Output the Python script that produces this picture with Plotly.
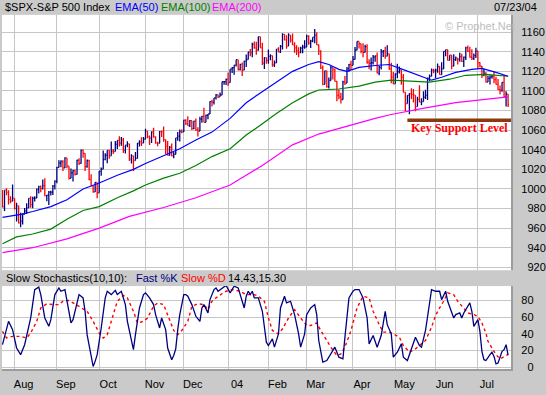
import pandas as pd
import plotly.graph_objects as go

# ---------------- data ----------------
start_date, end_date = "2003-07-24", "2004-07-23"
holidays = ["2003-09-01", "2003-11-27", "2003-12-25", "2004-01-01", "2004-01-19",
            "2004-02-16", "2004-04-09", "2004-05-31", "2004-06-11", "2004-07-05"]

opens = [
    988.6, 981.6, 998.7, 996.5, 989.3, 987.5,
    990.3, 980.2, 982.8, 965.5, 967.1, 974.1, 977.6, 980.6, 990.4, 984.0, 990.5, 990.7, 999.7, 1002.4, 1000.3, 1003.3, 993.1, 993.7, 996.7, 996.8, 1002.8,
    1008.0, 1022.0, 1026.3, 1028.0, 1021.4, 1031.6, 1023.2, 1010.9, 1016.4, 1018.6, 1014.8, 1029.3, 1026.0, 1039.6, 1036.3, 1022.8, 1029.0, 1009.4, 1003.3, 996.9, 1006.6,
    996.0, 1018.2, 1020.2, 1029.9, 1034.4, 1039.3, 1033.8, 1038.7, 1038.1, 1045.4, 1049.5, 1046.8, 1050.1, 1039.3, 1044.7, 1046.0, 1030.4, 1033.8, 1028.9, 1031.1, 1046.8, 1048.1, 1046.9,
    1050.7, 1059.0, 1053.3, 1051.8, 1058.1, 1053.2, 1047.1, 1046.6, 1058.5, 1058.4, 1050.4, 1043.6, 1034.2, 1042.4, 1033.7, 1035.3, 1052.1, 1053.9, 1058.5,
    1058.2, 1070.1, 1066.6, 1064.7, 1069.7, 1061.5, 1069.3, 1060.2, 1059.1, 1071.2, 1074.1, 1068.0, 1075.1, 1076.5, 1089.2, 1088.7, 1092.9, 1096.0, 1094.0, 1095.9, 1109.5, 1109.6,
    1111.9, 1108.5, 1122.2, 1123.7, 1126.3, 1131.9, 1121.9, 1127.2, 1121.2, 1130.5, 1132.1, 1139.8, 1138.8, 1147.6, 1143.9, 1141.6, 1155.4, 1144.1, 1128.5, 1134.1,
    1131.1, 1135.3, 1136.0, 1126.5, 1128.6, 1142.8, 1139.8, 1145.5, 1157.8, 1152.1, 1145.8, 1157.0, 1151.8, 1147.1, 1144.1, 1141.0, 1139.1, 1143.7, 1144.9,
    1144.9, 1156.0, 1149.1, 1151.0, 1154.9, 1156.9, 1147.2, 1140.6, 1123.9, 1106.8, 1120.6, 1104.5, 1110.7, 1123.8, 1122.3, 1109.8, 1095.4, 1094.0, 1091.3, 1109.2, 1108.1, 1122.5, 1127.0,
    1126.2, 1132.2, 1141.8, 1150.6, 1148.2, 1140.5, 1139.3, 1145.2, 1129.4, 1128.2, 1128.8, 1134.6, 1135.8, 1118.2, 1124.1, 1139.9, 1140.6, 1135.5, 1138.1, 1122.4, 1113.9,
    1107.3, 1117.5, 1119.6, 1121.5, 1114.0, 1098.7, 1087.1, 1095.5, 1097.3, 1096.4, 1095.7, 1084.1, 1091.5, 1088.7, 1089.2, 1093.6, 1095.4, 1113.1, 1114.9, 1121.3,
    1120.7, 1121.2, 1125.0, 1116.6, 1122.5, 1140.4, 1142.2, 1131.3, 1136.5, 1125.3, 1132.0, 1133.6, 1132.1, 1135.0, 1130.3, 1134.4, 1144.1, 1140.7, 1134.4, 1133.4, 1136.2,
    1140.8, 1128.9, 1125.4, 1116.2, 1118.3, 1109.1, 1112.8, 1114.4, 1115.1, 1111.5, 1106.7, 1101.4, 1100.9, 1108.7, 1093.9, 1096.8,
]
highs = [
    998.9, 998.7, 1000.7, 998.6, 992.6, 1004.6,
    990.3, 985.8, 982.8, 975.7, 974.9, 980.6, 985.5, 990.4, 992.5, 991.9, 992.4, 1000.4, 1003.3, 1003.5, 1009.5, 1011.0, 993.7, 997.9, 998.1, 1004.1, 1008.9,
    1022.6, 1029.3, 1029.2, 1029.2, 1032.4, 1031.6, 1023.2, 1020.9, 1019.6, 1019.8, 1029.7, 1031.3, 1040.2, 1040.3, 1036.3, 1030.1, 1029.8, 1015.0, 1003.3, 1006.9, 1006.6,
    1018.2, 1021.9, 1039.3, 1036.5, 1039.3, 1040.1, 1048.3, 1040.8, 1048.9, 1049.5, 1053.8, 1052.9, 1051.9, 1044.7, 1048.6, 1046.0, 1035.4, 1033.8, 1037.8, 1046.8, 1049.8, 1052.8, 1053.1,
    1061.4, 1059.0, 1054.5, 1058.9, 1062.4, 1053.7, 1048.2, 1059.1, 1059.6, 1063.7, 1050.4, 1048.8, 1043.9, 1046.5, 1037.6, 1052.1, 1058.1, 1060.6, 1060.6,
    1070.5, 1071.2, 1074.3, 1070.4, 1069.7, 1069.6, 1071.9, 1063.0, 1073.6, 1074.8, 1082.8, 1075.9, 1076.5, 1089.5, 1091.1, 1092.9, 1096.9, 1096.4, 1098.5, 1109.5, 1109.8, 1112.6,
    1118.9, 1122.2, 1124.5, 1126.3, 1131.9, 1131.9, 1127.9, 1129.1, 1130.8, 1137.1, 1139.8, 1142.9, 1149.2, 1150.5, 1150.3, 1155.4, 1155.4, 1149.1, 1134.4, 1134.2,
    1142.4, 1137.4, 1136.0, 1131.2, 1142.8, 1144.5, 1147.0, 1158.9, 1157.8, 1156.9, 1158.9, 1157.0, 1158.6, 1149.8, 1146.7, 1144.5, 1145.2, 1147.3, 1151.7,
    1157.5, 1157.0, 1152.4, 1154.9, 1163.2, 1159.9, 1147.3, 1141.5, 1125.9, 1120.6, 1120.6, 1113.8, 1125.8, 1123.8, 1122.7, 1109.8, 1101.5, 1098.3, 1110.4, 1115.3, 1124.4, 1127.6, 1130.8,
    1135.7, 1144.8, 1150.6, 1150.6, 1148.2, 1148.8, 1147.3, 1147.8, 1132.5, 1134.1, 1136.8, 1136.2, 1139.3, 1125.7, 1142.8, 1141.9, 1145.1, 1146.6, 1138.1, 1128.8, 1119.3,
    1118.2, 1127.7, 1125.1, 1121.5, 1117.3, 1098.7, 1095.7, 1097.6, 1102.8, 1102.1, 1095.7, 1094.1, 1105.9, 1092.6, 1099.6, 1101.3, 1113.8, 1116.7, 1123.0, 1122.7,
    1122.7, 1128.1, 1125.3, 1129.2, 1140.5, 1142.2, 1142.2, 1136.5, 1136.5, 1137.4, 1135.3, 1133.6, 1138.9, 1138.1, 1135.1, 1145.2, 1146.3, 1145.1, 1142.6, 1138.3, 1144.2,
    1140.8, 1129.2, 1125.4, 1122.4, 1119.1, 1115.6, 1116.1, 1116.3, 1119.6, 1114.6, 1112.2, 1105.5, 1108.9, 1116.3, 1099.7, 1096.8,
]
lows = [
    981.1, 977.5, 993.6, 984.1, 985.4, 987.5,
    978.9, 966.8, 964.6, 960.8, 963.8, 974.1, 974.5, 980.6, 980.9, 980.3, 987.1, 990.7, 995.3, 996.6, 999.5, 992.6, 987.5, 983.6, 993.3, 993.8, 999.5,
    1005.7, 1022.0, 1022.2, 1018.2, 1021.4, 1021.1, 1009.7, 1010.9, 1007.7, 1013.6, 1014.8, 1024.5, 1025.8, 1031.9, 1018.3, 1021.5, 1008.9, 1003.3, 996.1, 996.9, 990.4,
    996.0, 1013.4, 1020.2, 1029.2, 1026.3, 1030.7, 1033.8, 1035.7, 1038.1, 1040.8, 1043.2, 1044.0, 1036.6, 1036.1, 1042.6, 1028.4, 1025.9, 1018.3, 1028.9, 1031.1, 1043.4, 1043.8, 1046.9,
    1050.7, 1051.7, 1044.9, 1046.9, 1052.2, 1046.0, 1043.5, 1046.6, 1052.9, 1048.1, 1035.3, 1034.0, 1034.2, 1033.4, 1031.2, 1035.3, 1049.3, 1048.4, 1056.8,
    1058.2, 1065.2, 1064.6, 1063.2, 1060.1, 1060.9, 1059.2, 1053.4, 1059.1, 1067.6, 1068.0, 1068.0, 1071.1, 1076.5, 1084.2, 1086.1, 1091.2, 1092.7, 1094.0, 1095.9, 1106.4, 1106.2,
    1105.1, 1108.5, 1118.4, 1116.5, 1124.9, 1120.9, 1120.9, 1115.2, 1121.2, 1124.5, 1132.1, 1135.4, 1134.4, 1143.0, 1136.9, 1141.0, 1144.1, 1126.5, 1122.4, 1127.7,
    1127.9, 1131.3, 1124.7, 1124.4, 1128.6, 1139.8, 1138.8, 1142.3, 1151.4, 1143.2, 1145.8, 1149.5, 1146.9, 1139.0, 1136.7, 1134.4, 1138.6, 1138.6, 1143.0,
    1144.9, 1147.3, 1143.8, 1149.8, 1148.8, 1146.9, 1136.8, 1122.5, 1105.9, 1106.8, 1103.4, 1102.6, 1110.7, 1111.6, 1109.7, 1089.5, 1091.6, 1087.2, 1091.3, 1106.1, 1108.1, 1119.7, 1121.5,
    1126.2, 1132.2, 1141.6, 1143.3, 1138.4, 1134.5, 1139.3, 1127.7, 1122.1, 1120.8, 1126.9, 1129.8, 1118.1, 1116.0, 1121.9, 1134.8, 1132.9, 1135.5, 1121.7, 1108.0, 1107.2,
    1107.3, 1112.9, 1117.9, 1106.3, 1098.6, 1079.6, 1087.1, 1076.3, 1091.8, 1088.2, 1079.4, 1084.1, 1088.5, 1085.4, 1089.2, 1091.8, 1090.7, 1109.9, 1114.9, 1118.1,
    1113.3, 1118.6, 1116.6, 1116.6, 1122.5, 1135.5, 1131.2, 1131.3, 1122.2, 1125.3, 1130.5, 1126.9, 1129.8, 1129.6, 1124.4, 1131.7, 1139.9, 1134.2, 1131.7, 1131.5, 1133.6,
    1123.1, 1124.1, 1113.2, 1114.9, 1108.7, 1109.1, 1106.7, 1112.5, 1107.8, 1106.7, 1101.1, 1096.6, 1099.1, 1093.9, 1084.2, 1083.6,
]
closes = [
    981.6, 998.7, 996.5, 989.3, 987.5, 990.3,
    980.2, 982.8, 965.5, 967.1, 974.1, 977.6, 980.6, 990.4, 984.0, 990.5, 990.7, 999.7, 1002.4, 1000.3, 1003.3, 993.1, 993.7, 996.7, 996.8, 1002.8, 1008.0,
    1022.0, 1026.3, 1028.0, 1021.4, 1031.6, 1023.2, 1010.9, 1016.4, 1018.6, 1014.8, 1029.3, 1026.0, 1039.6, 1036.3, 1022.8, 1029.0, 1009.4, 1003.3, 996.9, 1006.6, 996.0,
    1018.2, 1020.2, 1029.9, 1034.4, 1039.3, 1033.8, 1038.7, 1038.1, 1045.4, 1049.5, 1046.8, 1050.1, 1039.3, 1044.7, 1046.0, 1030.4, 1033.8, 1028.9, 1031.1, 1046.8, 1048.1, 1046.9, 1050.7,
    1059.0, 1053.3, 1051.8, 1058.1, 1053.2, 1047.1, 1046.6, 1058.5, 1058.4, 1050.4, 1043.6, 1034.2, 1042.4, 1033.7, 1035.3, 1052.1, 1053.9, 1058.5, 1058.2,
    1070.1, 1066.6, 1064.7, 1069.7, 1061.5, 1069.3, 1060.2, 1059.1, 1071.2, 1074.1, 1068.0, 1075.1, 1076.5, 1089.2, 1088.7, 1092.9, 1096.0, 1094.0, 1095.9, 1109.5, 1109.6, 1111.9,
    1108.5, 1122.2, 1123.7, 1126.3, 1131.9, 1121.9, 1127.2, 1121.2, 1130.5, 1132.1, 1139.8, 1138.8, 1147.6, 1143.9, 1141.6, 1155.4, 1144.1, 1128.5, 1134.1, 1131.1,
    1135.3, 1136.0, 1126.5, 1128.6, 1142.8, 1139.8, 1145.5, 1157.8, 1152.1, 1145.8, 1157.0, 1151.8, 1147.1, 1144.1, 1141.0, 1139.1, 1143.7, 1144.9, 1144.9,
    1156.0, 1149.1, 1151.0, 1154.9, 1156.9, 1147.2, 1140.6, 1123.9, 1106.8, 1120.6, 1104.5, 1110.7, 1123.8, 1122.3, 1109.8, 1095.4, 1094.0, 1091.3, 1109.2, 1108.1, 1122.5, 1127.0, 1126.2,
    1132.2, 1141.8, 1150.6, 1148.2, 1140.5, 1139.3, 1145.2, 1129.4, 1128.2, 1128.8, 1134.6, 1135.8, 1118.2, 1124.1, 1139.9, 1140.6, 1135.5, 1138.1, 1122.4, 1113.9, 1107.3,
    1117.5, 1119.6, 1121.5, 1114.0, 1098.7, 1087.1, 1095.5, 1097.3, 1096.4, 1095.7, 1084.1, 1091.5, 1088.7, 1089.2, 1093.6, 1095.4, 1113.1, 1114.9, 1121.3, 1120.7,
    1121.2, 1125.0, 1116.6, 1122.5, 1140.4, 1142.2, 1131.3, 1136.5, 1125.3, 1132.0, 1133.6, 1132.1, 1135.0, 1130.3, 1134.4, 1144.1, 1140.7, 1134.4, 1133.4, 1136.2, 1140.8,
    1128.9, 1125.4, 1116.2, 1118.3, 1109.1, 1112.8, 1114.4, 1115.1, 1111.5, 1106.7, 1101.4, 1100.9, 1108.7, 1093.9, 1096.8, 1086.2,
]

# moving averages (trading-day number, value)
ema50_day = [0, 9, 15, 24, 32, 40, 44, 48, 57, 65, 71, 80, 88, 96, 104, 113, 121, 128, 136, 144,
             152, 157, 162, 167, 171, 177, 185, 192, 200, 208, 213, 218, 225, 233, 238, 245, 251]
ema50_val = [971, 974, 977, 982, 989, 1000, 1003, 1006, 1014, 1020, 1026, 1034, 1041, 1050, 1058, 1072, 1088, 1098, 1109, 1120,
             1127, 1130, 1127, 1122, 1120, 1124, 1126, 1127, 1121, 1115, 1111, 1114, 1119, 1122, 1123, 1119, 1115]
ema100_day = [0, 7, 15, 24, 32, 40, 48, 57, 65, 71, 80, 88, 96, 104, 113, 121, 128, 136, 144, 152,
              157, 167, 177, 185, 193, 200, 212, 222, 230, 240, 251]
ema100_val = [944, 951, 954, 959, 969, 978, 982, 991, 998, 1004, 1011, 1016, 1024, 1033, 1041, 1055, 1065, 1077, 1088, 1097,
              1101, 1102, 1105, 1109, 1111, 1110, 1109, 1112, 1116, 1117, 1115]
ema200_day = [0, 15, 32, 48, 63, 80, 96, 113, 129, 144, 157, 169, 177, 185, 193, 208, 225, 241, 251]
ema200_val = [935, 940, 949, 960, 972, 981, 991, 1004, 1024, 1045, 1056, 1063, 1067, 1072, 1076, 1082, 1088, 1092, 1094]

# slow stochastics (10,10)
k_day = [0, 3, 5, 7, 9, 11, 14, 16, 18, 19,
         21, 23, 24, 26, 28, 29, 31, 33, 34, 35,
         37, 38, 40, 41, 42, 44, 45, 46, 47, 49,
         51, 52, 54, 56, 57, 59, 61, 62, 64, 65,
         66, 68, 70, 71, 73, 75, 76, 78, 79, 81,
         82, 84, 85, 86, 87, 88, 90, 91, 92, 94,
         96, 98, 99, 100, 102, 103, 105, 106, 107, 109,
         111, 113, 115, 117, 119, 120, 121, 122, 123, 124,
         125, 127, 129, 131, 132, 134, 135, 137, 138, 140,
         141, 143, 145, 147, 148, 150, 151, 153, 155, 156,
         157, 159, 161, 163, 165, 167, 169, 170, 172, 174,
         175, 177, 179, 181, 182, 184, 186, 188, 189, 190,
         191, 193, 194, 196, 198, 199, 201, 203, 205, 207,
         208, 210, 212, 213, 215, 217, 218, 220, 221, 223,
         224, 225, 227, 228, 229, 232, 233, 234, 236, 237,
         238, 239, 240, 242, 243, 244, 245, 246, 247, 248,
         249, 250, 251]
k_val = [27, 55, 45, 23, 15, 27, 59, 93, 96, 87,
         59, 49, 57, 87, 95, 91, 93, 67, 53, 57,
         79, 87, 83, 67, 39, 15, 1, 7, 15, 47,
         83, 91, 87, 92, 87, 91, 75, 55, 31, 21,
         39, 71, 87, 89, 83, 75, 63, 47, 59, 45,
         23, 9, 14, 22, 45, 63, 87, 87, 85, 75,
         61, 55, 71, 75, 65, 81, 93, 95, 91, 95,
         98, 89, 97, 95, 79, 71, 85, 91, 87, 91,
         83, 83, 67, 30, 26, 34, 24, 40, 71, 85,
         77, 79, 63, 40, 24, 40, 63, 71, 75, 63,
         32, 6, 8, 16, 24, 12, 10, 36, 83, 91,
         93, 93, 83, 59, 28, 38, 24, 38, 55, 67,
         51, 40, 12, 18, 28, 12, 8, 22, 36, 26,
         24, 44, 75, 93, 91, 91, 81, 91, 79, 67,
         59, 63, 65, 59, 65, 77, 67, 49, 57, 43,
         19, 9, 8, 15, 18, 13, 4, 5, 12, 19,
         21, 27, 14.43]
d_day = [0, 2, 5, 9, 12, 14, 17, 19, 22, 25,
         28, 30, 33, 35, 38, 42, 45, 48, 50, 52,
         55, 57, 60, 62, 65, 67, 70, 72, 75, 77,
         80, 82, 85, 87, 89, 92, 94, 97, 100, 102,
         104, 107, 111, 114, 118, 121, 125, 127, 130, 132,
         134, 137, 139, 142, 145, 148, 151, 153, 156, 158,
         161, 163, 166, 168, 170, 173, 176, 179, 182, 184,
         187, 189, 192, 194, 197, 199, 202, 205, 207, 210,
         213, 215, 217, 219, 221, 224, 226, 229, 231, 234,
         236, 238, 240, 241, 243, 245, 247, 249, 251]
d_val = [43, 35, 37, 37, 35, 41, 55, 71, 76, 75,
         75, 79, 80, 77, 73, 67, 55, 41, 35, 39,
         63, 79, 86, 83, 67, 53, 55, 59, 73, 77,
         75, 63, 44, 39, 44, 55, 73, 76, 75, 69,
         79, 85, 91, 93, 91, 87, 87, 85, 79, 59,
         44, 40, 46, 59, 69, 59, 50, 50, 53, 44,
         32, 24, 14, 16, 24, 44, 71, 85, 83, 67,
         51, 42, 42, 40, 36, 26, 18, 22, 26, 32,
         48, 62, 71, 79, 89, 87, 79, 71, 65, 63,
         61, 53, 41, 31, 23, 15, 10, 13, 15.30]

price_ticks = [920, 940, 960, 980, 1000, 1020, 1040, 1060, 1080, 1100, 1120, 1140, 1160]
stoch_ticks = [0, 20, 40, 60, 80]
month_labels = ["Aug", "Sep", "Oct", "Nov", "Dec", "04", "Feb", "Mar", "Apr", "May", "Jun", "Jul"]
support_level = 1070
support_from = "2004-05-11"
last_k, last_d = "14.43", "15.30"

# ---------------- build ----------------
dates = [d for d in pd.bdate_range(start_date, end_date) if d.strftime("%Y-%m-%d") not in holidays]
N = len(dates)
assert N == len(opens) == len(highs) == len(lows) == len(closes), (N, len(opens), len(highs), len(lows), len(closes))
assert len(k_day) == len(k_val) and len(d_day) == len(d_val)
days = list(range(N))
month_idx = [i for i in range(1, N) if dates[i].month != dates[i - 1].month]
support_idx = [d.strftime("%Y-%m-%d") for d in dates].index(support_from)

up = [i for i in days if (closes[i] >= (closes[i - 1] if i > 0 else opens[i]))]
dn = [i for i in days if i not in up]

W, H = 546, 395
def px(x):
    return x / W
def py(y):
    return 1 - y / H

NAVY = "#000080"
RED = "#ff0000"
GRID = "#c6c6c6"
FONT = "Liberation Sans, Arial, sans-serif"

x_lo, x_hi = -0.25, N - 1 + 1.5

fig = go.Figure()
fig.add_trace(go.Scatter(x=ema200_day, y=ema200_val, mode="lines", line=dict(color="#ff00ff", width=1.2), hoverinfo="skip"))
fig.add_trace(go.Scatter(x=ema100_day, y=ema100_val, mode="lines", line=dict(color="#008000", width=1.2), hoverinfo="skip"))
fig.add_trace(go.Scatter(x=ema50_day, y=ema50_val, mode="lines", line=dict(color="#0000ff", width=1.2), hoverinfo="skip"))

for idx, col in ((up, NAVY), (dn, RED)):
    fig.add_trace(go.Ohlc(
        x=[days[i] for i in idx], open=[opens[i] for i in idx], high=[highs[i] for i in idx],
        low=[lows[i] for i in idx], close=[closes[i] for i in idx],
        increasing=dict(line=dict(color=col, width=1.3)), decreasing=dict(line=dict(color=col, width=1.3)),
        tickwidth=0.45, hoverinfo="skip", xaxis="x", yaxis="y"))

fig.add_trace(go.Scatter(x=d_day, y=d_val, mode="lines", line=dict(color=RED, width=1.4, dash="dot"),
                         xaxis="x2", yaxis="y2", hoverinfo="skip"))
fig.add_trace(go.Scatter(x=k_day, y=k_val, mode="lines", line=dict(color=NAVY, width=1.3),
                         xaxis="x2", yaxis="y2", hoverinfo="skip"))

fs = "\u2007"
price_text = [str(v).rjust(4, fs) for v in price_ticks]
stoch_text = [str(v).rjust(2, fs) for v in stoch_ticks]

common_x = dict(range=[x_lo, x_hi], tickmode="array", tickvals=month_idx, ticks="", showgrid=True,
                gridcolor=GRID, gridwidth=1, zeroline=False, fixedrange=True, domain=[px(2), px(513)])
common_y = dict(side="right", tickmode="array", ticks="", showgrid=True, gridcolor=GRID, gridwidth=1,
                zeroline=False, fixedrange=True, ticklabelstandoff=6,
                tickfont=dict(family=FONT, size=11, color="black"),
                showline=True, linecolor="#9c9c9c", linewidth=2)

fig.update_layout(
    width=W, height=H, margin=dict(l=0, r=0, t=0, b=0),
    paper_bgcolor="#cacaca", plot_bgcolor="white", showlegend=False,
    font=dict(family=FONT, size=11, color="black"),
    xaxis=dict(common_x, anchor="y", showticklabels=False, rangeslider=dict(visible=False)),
    yaxis=dict(common_y, domain=[py(273), py(15)], range=[917, 1177.7], tickvals=price_ticks, ticktext=price_text),
    xaxis2=dict(common_x, anchor="y2", ticktext=month_labels, ticklabelshift=9, ticklabelstandoff=4,
                tickfont=dict(family=FONT, size=11, color="black"),
                showline=True, linecolor="#9c9c9c", linewidth=2),
    yaxis2=dict(common_y, domain=[py(373), py(289)], range=[-2.4, 97.2], tickvals=stoch_ticks, ticktext=stoch_text),
)

def ann(text, x, y, color="black", size=11, anchor="left", family=FONT):
    fig.add_annotation(text=text, x=px(x), y=py(y), xref="paper", yref="paper", xanchor=anchor,
                       yanchor="middle", showarrow=False, font=dict(family=family, size=size, color=color),
                       borderpad=0)

ann("$SPX-S&amp;P 500 Index", 4, 7.5)
ann("EMA(50)", 114, 7.5, "#0000ff")
ann("EMA(100)", 161, 7.5, "#008000")
ann("EMA(200)", 212, 7.5, "#ff00ff")
ann("07/23/04", 540, 7.5, anchor="right")
ann("\u00a9 Prophet.Net", 446, 26, "#bdbdbd", 11)
ann("Slow Stochastics(10,10):", 5, 281)
ann("Fast %K", 135, 281, NAVY)
ann("Slow %D", 181, 281, RED)
ann(f"{last_k},{last_d}", 228, 281)
ann("<b>Key Support Level</b>", 461, 129, RED, 12, anchor="center",
    family="Liberation Serif, Times New Roman, serif")

fig.add_shape(type="line", xref="x", yref="y", x0=support_idx, x1=x_hi, y0=support_level, y1=support_level,
              line=dict(color="#8b3a10", width=3.5), layer="above")

fig.write_html("out.html", config=dict(displayModeBar=False),
               post_script="document.body.style.margin='0';document.body.style.overflow='hidden';")
